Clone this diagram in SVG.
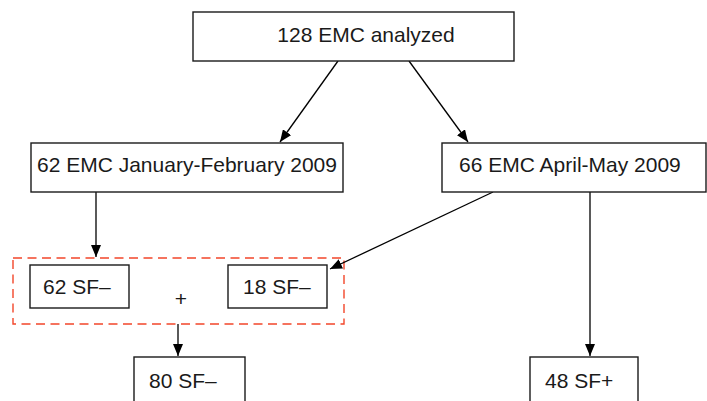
<svg xmlns="http://www.w3.org/2000/svg" width="707" height="401" viewBox="0 0 707 401">
<defs>
<style>
.box{fill:#fff;stroke:#1a1a1a;stroke-width:1.4}
.t{font-family:"Liberation Sans",Arial,sans-serif;font-size:21px;fill:#1a1a1a}
.c{stroke:#000;stroke-width:1.3;fill:none;marker-end:url(#ah)}
</style>
<marker id="ah" viewBox="0 0 12 10" refX="12" refY="5" markerWidth="12" markerHeight="10" markerUnits="userSpaceOnUse" orient="auto">
<path d="M0,0 L12,5 L0,10 Z" fill="#000"/>
</marker>
</defs>
<rect width="707" height="401" fill="#fff"/>
<g id="group">
<rect x="13" y="258" width="331" height="66" fill="none" stroke="#f2462a" stroke-width="1.4" stroke-dasharray="9,5.5"/>
<text class="t" x="181" y="306" text-anchor="middle">+</text>
</g>
<g id="connectors">
<line class="c" x1="338" y1="61" x2="280" y2="142"/>
<line class="c" x1="409" y1="61" x2="468" y2="142"/>
<line class="c" x1="96" y1="192" x2="96" y2="257"/>
<line class="c" x1="493" y1="192" x2="330" y2="269"/>
<line class="c" x1="178" y1="324" x2="178" y2="356"/>
<line class="c" x1="590" y1="192" x2="590" y2="356"/>
</g>
<g id="n1"><rect class="box" x="193" y="12" width="321" height="49"/><text class="t" x="366" y="42" text-anchor="middle">128 EMC analyzed</text></g>
<g id="n2"><rect class="box" x="31" y="143" width="312" height="49"/><text class="t" x="187" y="172" text-anchor="middle">62 EMC January-February 2009</text></g>
<g id="n3"><rect class="box" x="442" y="143" width="264" height="49"/><text class="t" x="459" y="172">66 EMC April-May 2009</text></g>
<g id="n4"><rect class="box" x="30" y="265" width="99" height="43"/><text class="t" x="43" y="294">62 SF–</text></g>
<g id="n5"><rect class="box" x="228" y="265" width="99" height="43"/><text class="t" x="243" y="294">18 SF–</text></g>
<g id="n6"><rect class="box" x="134" y="357" width="111" height="50"/><text class="t" x="149" y="388">80 SF–</text></g>
<g id="n7"><rect class="box" x="530" y="357" width="108" height="50"/><text class="t" x="545" y="388">48 SF+</text></g>
</svg>
